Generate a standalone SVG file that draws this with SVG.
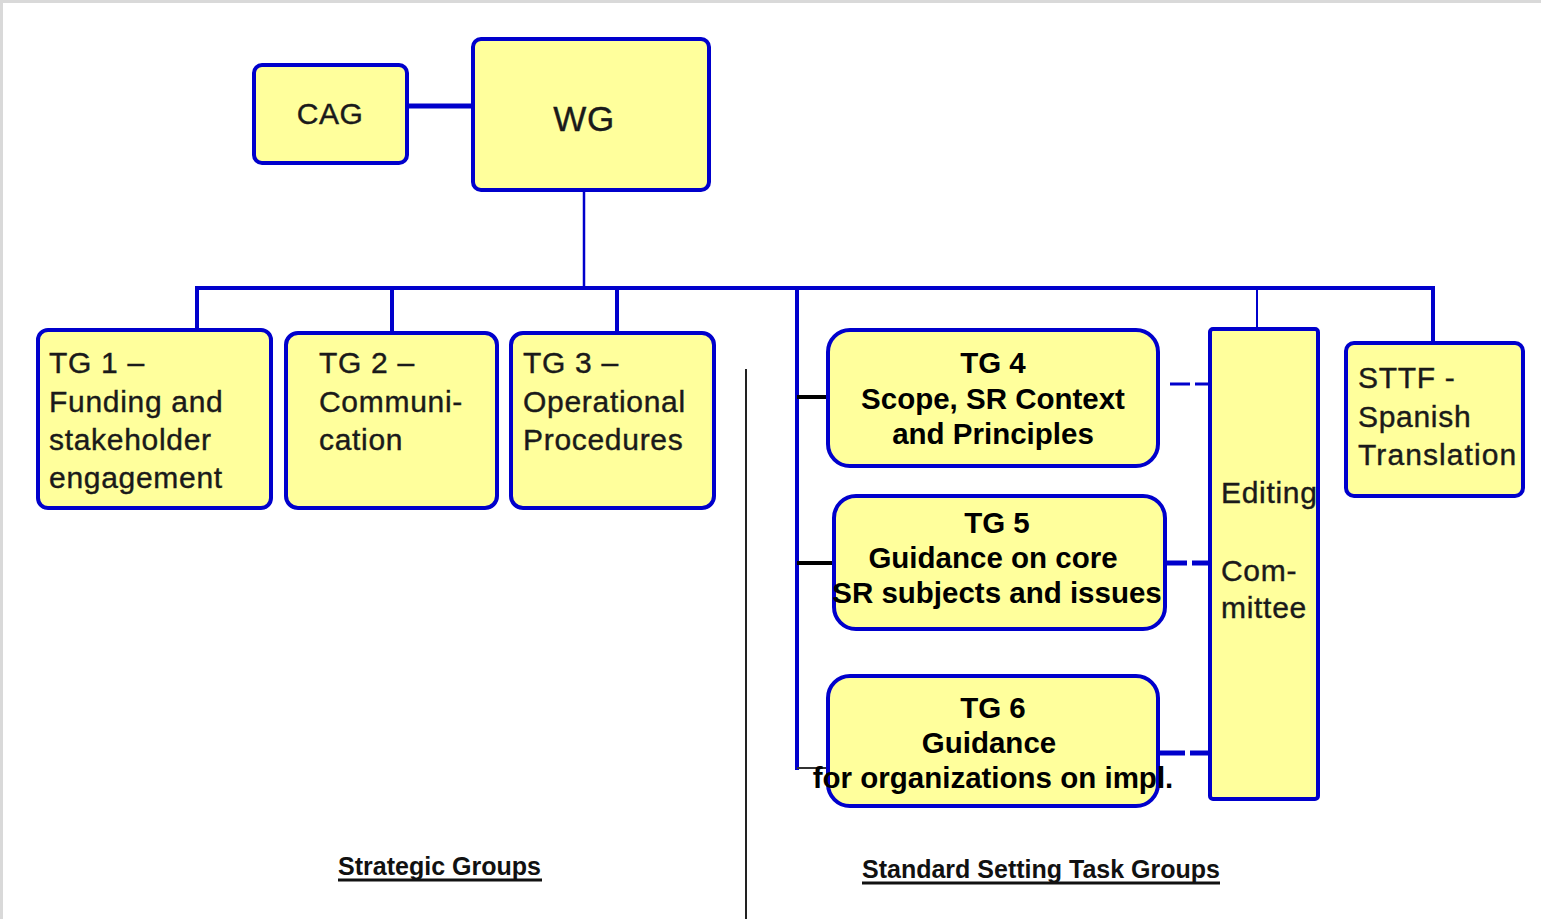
<svg xmlns="http://www.w3.org/2000/svg" width="1541" height="919" viewBox="0 0 1541 919">
<defs>
<style>
.box{fill:#ffff9c;stroke:#0000cc;stroke-width:4}
.ln{stroke:#0000cc;fill:none}
.t{font-family:"Liberation Sans",Arial,sans-serif;fill:#1a1a1a;stroke:#1a1a1a;stroke-width:0.4;font-size:30px;letter-spacing:0.7px}
.b{font-family:"Liberation Sans",Arial,sans-serif;fill:#000;font-size:29.5px;font-weight:bold;text-anchor:middle}
.u{font-family:"Liberation Sans",Arial,sans-serif;fill:#111;font-size:25px;font-weight:bold}
</style>
</defs>
<rect x="0" y="0" width="1541" height="919" fill="#fff"/>
<rect x="0" y="0" width="1541" height="3" fill="#d9d9d9"/>
<rect x="0" y="0" width="3" height="919" fill="#d9d9d9"/>
<g id="connectors">
<line class="ln" x1="407" y1="106" x2="472" y2="106" stroke-width="5"/>
<line class="ln" x1="584" y1="190" x2="584" y2="288" stroke-width="2.5"/>
<line class="ln" x1="195" y1="288" x2="1435" y2="288" stroke-width="4"/>
<line class="ln" x1="197" y1="288" x2="197" y2="330" stroke-width="4"/>
<line class="ln" x1="392" y1="288" x2="392" y2="333" stroke-width="4"/>
<line class="ln" x1="617" y1="288" x2="617" y2="333" stroke-width="4"/>
<line class="ln" x1="797" y1="288" x2="797" y2="770" stroke-width="4"/>
<line class="ln" x1="1257" y1="288" x2="1257" y2="328" stroke-width="2"/>
<line class="ln" x1="1433" y1="288" x2="1433" y2="343" stroke-width="4"/>
<line x1="797" y1="397" x2="834" y2="397" stroke="#000" stroke-width="4"/>
<line x1="797" y1="563" x2="837" y2="563" stroke="#000" stroke-width="4"/>
<line x1="797" y1="768" x2="828" y2="768" stroke="#333" stroke-width="2"/>
<line class="ln" x1="1170" y1="384" x2="1209" y2="384" stroke-width="3" stroke-dasharray="20,5"/>
<line class="ln" x1="1165" y1="563" x2="1209" y2="563" stroke-width="5" stroke-dasharray="22,5"/>
<line class="ln" x1="1158" y1="753" x2="1209" y2="753" stroke-width="5" stroke-dasharray="27,5"/>
<line x1="746" y1="369" x2="746" y2="919" stroke="#222" stroke-width="2"/>
</g>
<g id="cag">
<rect class="box" x="254" y="65" width="153" height="98" rx="8"/>
<text class="t" x="330" y="124" text-anchor="middle" style="letter-spacing:0.5px">CAG</text>
</g>
<g id="wg">
<rect class="box" x="473" y="39" width="236" height="151" rx="8"/>
<text class="t" x="584" y="131" text-anchor="middle" style="font-size:35px;letter-spacing:0.5px">WG</text>
</g>
<g id="tg1">
<rect class="box" x="38" y="330" width="233" height="178" rx="10"/>
<text class="t" x="49" y="373">TG 1 –</text>
<text class="t" x="49" y="412">Funding and</text>
<text class="t" x="49" y="450">stakeholder</text>
<text class="t" x="49" y="488">engagement</text>
</g>
<g id="tg2">
<rect class="box" x="286" y="333" width="211" height="175" rx="12"/>
<text class="t" x="319" y="373">TG 2 –</text>
<text class="t" x="319" y="412">Communi-</text>
<text class="t" x="319" y="450">cation</text>
</g>
<g id="tg3">
<rect class="box" x="511" y="333" width="203" height="175" rx="12"/>
<text class="t" x="523" y="373">TG 3 –</text>
<text class="t" x="523" y="412">Operational</text>
<text class="t" x="523" y="450">Procedures</text>
</g>
<g id="tg4">
<rect class="box" x="828" y="330" width="330" height="136" rx="22"/>
<text class="b" x="993" y="373">TG 4</text>
<text class="b" x="993" y="409">Scope, SR Context</text>
<text class="b" x="993" y="444">and Principles</text>
</g>
<g id="tg5">
<rect class="box" x="834" y="496" width="331" height="133" rx="22"/>
<text class="b" x="997" y="533">TG 5</text>
<text class="b" x="993" y="568">Guidance on core</text>
<text class="b" x="997" y="603">SR subjects and issues</text>
</g>
<g id="tg6">
<rect class="box" x="828" y="676" width="330" height="130" rx="22"/>
<text class="b" x="993" y="718">TG 6</text>
<text class="b" x="989" y="753">Guidance</text>
<text class="b" x="993" y="788">for organizations on impl.</text>
</g>
<g id="editing">
<rect class="box" x="1210" y="329" width="108" height="470" rx="3"/>
<text class="t" x="1221" y="503">Editing</text>
<text class="t" x="1221" y="581">Com-</text>
<text class="t" x="1221" y="618">mittee</text>
</g>
<g id="sttf">
<rect class="box" x="1346" y="343" width="177" height="153" rx="8"/>
<text class="t" x="1358" y="388">STTF -</text>
<text class="t" x="1358" y="427">Spanish</text>
<text class="t" x="1358" y="465" style="letter-spacing:1.1px">Translation</text>
</g>
<g id="labels">
<text class="u" x="338" y="875" textLength="203" lengthAdjust="spacingAndGlyphs">Strategic Groups</text>
<line x1="338" y1="880" x2="542" y2="880" stroke="#111" stroke-width="3"/>
<text class="u" x="862" y="878" textLength="358" lengthAdjust="spacingAndGlyphs">Standard Setting Task Groups</text>
<line x1="862" y1="883" x2="1220" y2="883" stroke="#111" stroke-width="3"/>
</g>
</svg>
